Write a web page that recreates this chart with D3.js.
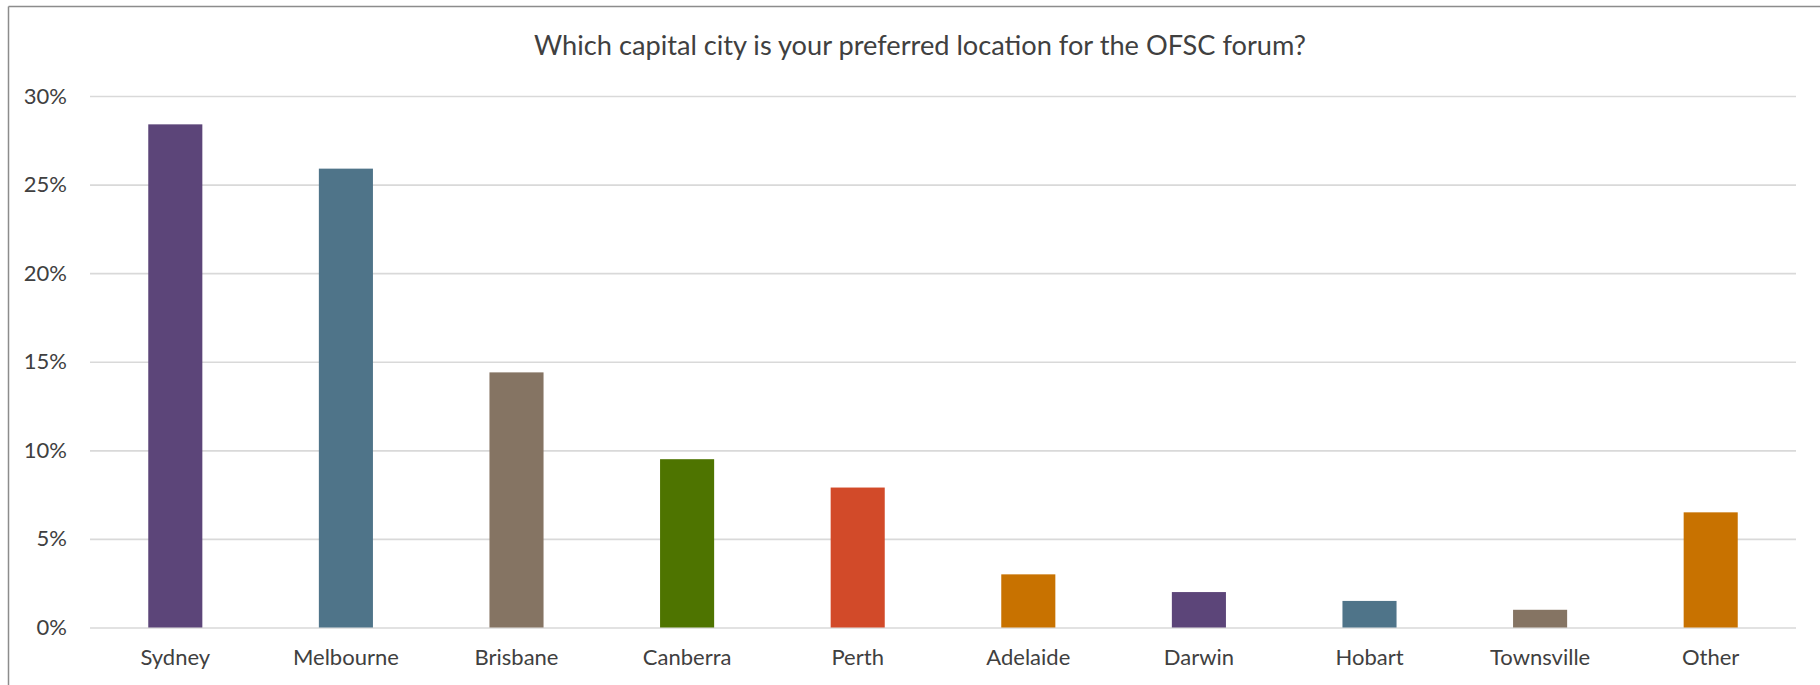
<!DOCTYPE html>
<html>
<head>
<meta charset="utf-8">
<script src="https://cdn.jsdelivr.net/npm/d3@7"></script>
<style>
  html, body { margin: 0; padding: 0; background: #fff; }
  svg { display: block; }
</style>
</head>
<body>
<svg id="chart" width="1820" height="685"></svg>
<script>
const titleText = "Which capital city is your preferred location for the OFSC forum?";
const categories = ["Sydney", "Melbourne", "Brisbane", "Canberra", "Perth", "Adelaide", "Darwin", "Hobart", "Townsville", "Other"];
const values = [28.4, 25.9, 14.4, 9.5, 7.9, 3.0, 2.0, 1.5, 1.0, 6.5];
const yTicks = [0, 5, 10, 15, 20, 25, 30];
const barColors = ["#5C4579", "#4F7489", "#857463", "#4E7400", "#D24A29", "#C87200", "#5C4579", "#4F7489", "#857463", "#C87200"];

const W = 1820, H = 685;
const margin = { left: 90, right: 24, top: 96, bottom: 57.5 };
const svg = d3.select("#chart");
const fontFamily = "Lato, 'Open Sans', sans-serif";

// frame (top and left edges visible)
svg.append("line").attr("x1", 8.5).attr("x2", W).attr("y1", 6.5).attr("y2", 6.5)
  .attr("stroke", "#8c8c8c").attr("stroke-width", 1.5);
svg.append("line").attr("x1", 8.5).attr("x2", 8.5).attr("y1", 6.5).attr("y2", H)
  .attr("stroke", "#8c8c8c").attr("stroke-width", 1.5);

const x = d3.scaleBand().domain(categories)
  .range([margin.left, W - margin.right])
  .paddingInner(0.683).paddingOuter(0.3415);
const y = d3.scaleLinear().domain([0, 30]).range([H - margin.bottom, margin.top]);

// gridlines via axis
const yAxis = d3.axisLeft(y).tickValues(yTicks).tickFormat(d => d + "%")
  .tickSize(-(W - margin.right - margin.left)).tickPadding(23);
const gy = svg.append("g").attr("transform", `translate(${margin.left},0)`).call(yAxis);
gy.select(".domain").remove();
gy.selectAll(".tick line").attr("stroke", "#d9d9d9").attr("stroke-width", 1.6);
gy.selectAll(".tick text").attr("fill", "#404040").style("font-family", fontFamily)
  .style("font-size", "22px");

// bars
svg.append("g").selectAll("rect").data(categories).join("rect")
  .attr("x", d => x(d))
  .attr("width", x.bandwidth())
  .attr("y", (d, i) => y(values[i]))
  .attr("height", (d, i) => y(0) - y(values[i]))
  .attr("fill", (d, i) => barColors[i]);

// x axis labels
const xAxis = d3.axisBottom(x).tickSize(0).tickPadding(22);
const gx = svg.append("g").attr("transform", `translate(0,${y(0)})`).call(xAxis);
gx.select(".domain").remove();
gx.selectAll(".tick text").attr("fill", "#404040").style("font-family", fontFamily)
  .style("font-size", "22px");

// title
svg.append("text").attr("x", 920).attr("y", 55).attr("text-anchor", "middle")
  .attr("fill", "#404040").style("font-family", fontFamily).style("font-size", "27.2px")
  .text(titleText);
</script>
</body>
</html>
